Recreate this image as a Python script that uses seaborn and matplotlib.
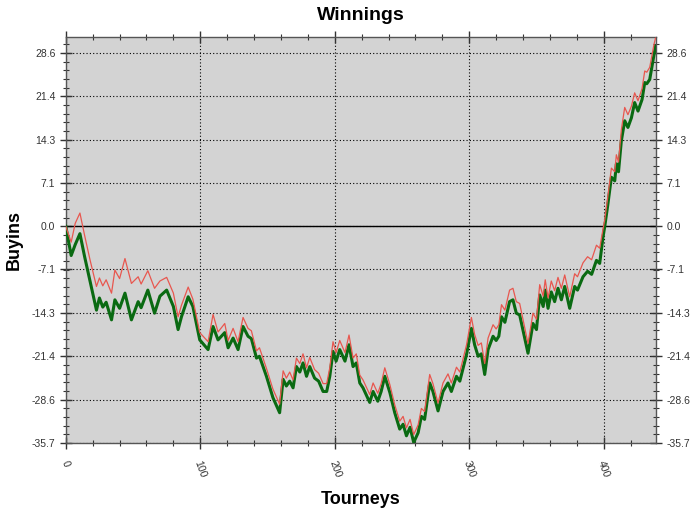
"""
plot.py

Recreates the 'Winnings' chart (buyins over tourneys, two series).
"""

import numpy as np
import pandas as pd
import matplotlib
matplotlib.use("Agg")
import matplotlib.pyplot as plt
from matplotlib.ticker import MultipleLocator, FixedLocator, FormatStrFormatter
import seaborn as sns

# Data
tourneys = [0, 4, 7, 10.5, 14, 18, 22.8, 25, 27.5, 30, 34, 36.5, 40, 44, 48.8, 53.8, 56, 61, 66, 70,
            75, 80, 83.5, 86, 91, 94.5, 99.6, 105.8, 109.5, 113.2, 118.2, 120.7, 124.4, 128.1, 131.8,
            135.5, 138, 141.8, 144, 149.2, 154, 159, 161.6, 164, 166.5, 169, 171.5, 174, 176.4, 179,
            181.4, 185, 188, 191.3, 194, 196.3, 198.7, 201, 203.7, 207.6, 210.6, 213.6, 216, 218.6,
            221, 226, 228.5, 232, 234.5, 237.2, 241, 244.6, 248.3, 250.8, 253.3, 256, 258.7, 262,
            264.4, 266.8, 270.6, 273, 276.8, 280.5, 284.2, 286.7, 290.5, 293, 298, 301.6, 304, 306.6,
            309, 311.5, 314, 317.7, 320, 322, 324, 326.5, 330, 332.5, 335, 337.5, 343.7, 347.4, 350,
            352.4, 355, 356.5, 358.6, 361, 363.5, 366, 368.5, 371, 374.7, 378.4, 380.5, 384.6, 388,
            391, 394.6, 397, 399.5, 400.7, 403, 405.7, 408.2, 409.4, 411, 413.1, 415.6, 418, 420.6,
            423, 425.5, 428.5, 430.5, 432, 434.2, 437.4, 438.5]

buyins_green = [0.0, -4.8, -3.0, -1.2, -5.0, -9.0, -13.8, -11.8, -13.3, -12.5, -15.4, -12.1, -13.5,
                -11.0, -15.4, -12.4, -13.4, -10.5, -14.3, -11.5, -10.5, -13.2, -17.0, -14.9, -11.6,
                -13.2, -18.7, -20.3, -16.5, -18.7, -17.5, -20.0, -18.4, -20.3, -16.5, -18.1, -18.5,
                -21.7, -21.4, -24.7, -28.2, -30.7, -25.2, -26.3, -25.5, -26.6, -23.1, -24.0, -22.5,
                -24.7, -23.1, -25.0, -25.5, -27.2, -27.2, -24.7, -20.6, -22.2, -20.3, -22.2, -19.5,
                -23.1, -22.5, -25.8, -26.6, -29.0, -27.2, -28.8, -27.2, -24.7, -27.4, -30.7, -33.4,
                -32.6, -34.5, -33.1, -35.6, -34.0, -31.3, -31.8, -25.8, -27.2, -30.4, -27.2, -25.8,
                -27.2, -24.7, -25.5, -21.1, -16.8, -19.5, -21.4, -21.0, -24.4, -20.3, -18.1, -18.8,
                -18.1, -14.9, -15.8, -12.4, -12.1, -14.3, -14.6, -20.9, -16.0, -17.0, -11.3, -13.2,
                -10.5, -13.5, -10.8, -12.4, -10.2, -12.1, -9.9, -13.5, -9.9, -10.5, -8.3, -7.4, -7.9,
                -5.6, -6.1, -1.7, -0.1, 3.5, 8.1, 7.5, 10.3, 9.0, 14.1, 17.4, 16.3, 17.9, 20.4, 19.0,
                20.9, 23.7, 23.5, 24.2, 28.3, 29.7]

buyins_red = [0.0, -2.6, 0.5, 2.2, -1.5, -5.5, -9.9, -8.5, -9.8, -8.8, -11.0, -7.2, -8.6, -5.3,
              -9.4, -8.3, -9.5, -7.3, -10.2, -9.0, -8.4, -11.0, -14.9, -13.0, -10.0, -12.0, -17.5,
              -19.0, -14.5, -17.4, -16.0, -18.8, -16.8, -19.0, -15.0, -16.8, -17.2, -20.5, -20.0,
              -23.4, -26.8, -29.3, -23.8, -25.0, -24.0, -25.3, -21.7, -22.6, -21.0, -23.3, -21.6,
              -23.6, -24.2, -25.9, -25.9, -23.3, -19.0, -20.8, -18.8, -20.8, -17.9, -21.7, -21.0,
              -24.5, -25.3, -27.7, -25.8, -27.5, -25.9, -23.3, -26.1, -29.4, -32.1, -31.3, -33.2,
              -31.8, -34.3, -32.7, -30.0, -30.5, -24.4, -25.9, -29.1, -25.8, -24.3, -25.8, -23.2,
              -24.0, -19.5, -15.0, -17.8, -19.6, -19.2, -22.6, -18.4, -16.2, -16.9, -16.2, -12.9,
              -13.8, -10.5, -10.2, -12.4, -12.7, -19.3, -14.3, -15.3, -9.6, -11.5, -8.8, -11.8,
              -9.0, -10.6, -8.4, -10.2, -8.0, -11.6, -7.8, -8.3, -6.0, -5.0, -5.5, -3.1, -3.6,
              -0.4, 1.0, 4.8, 9.6, 9.0, 11.8, 10.6, 15.9, 19.6, 18.4, 19.8, 22.0, 20.7, 22.7,
              25.6, 25.4, 26.2, 30.0, 31.0]

y_ticks = [-35.7, -28.6, -21.4, -14.3, -7.1, 0.0, 7.1, 14.3, 21.4, 28.6]

plt.rcParams['font.family'] = ['Liberation Sans', 'DejaVu Sans']

fig = plt.figure(figsize=(7, 5.14), dpi=100)
ax = fig.add_axes([0.094, 0.138, 0.843, 0.790])
ax.set_facecolor('#d3d3d3')

# Zero line and grid
ax.axhline(0, color='black', linewidth=1.0, zorder=1)

sns.lineplot(x=tourneys, y=buyins_green, color='#0a6a12', linewidth=2.2, ax=ax,
             estimator=None, sort=False, zorder=3)
sns.lineplot(x=tourneys, y=buyins_red, color='#e8574f', linewidth=0.9, ax=ax,
             estimator=None, sort=False, zorder=4)

ax.set_xlim(0, 438.8)
ax.set_ylim(-35.7, 31.2)

ax.xaxis.set_major_locator(MultipleLocator(100))
ax.xaxis.set_minor_locator(MultipleLocator(20))
ax.yaxis.set_major_locator(FixedLocator(y_ticks))
ax.yaxis.set_minor_locator(MultipleLocator(35.7 / 25))
ax.yaxis.set_major_formatter(FormatStrFormatter('%.1f'))

ax.grid(True, which='major', color='black', linestyle=(0, (1, 2)), linewidth=0.8)
ax.set_axisbelow(True)

ax.tick_params(which='both', direction='inout', left=True, right=True, top=True, bottom=True,
               labelright=True, labelsize=7.5, labelcolor='#333333', color='#333333')
ax.tick_params(which='major', length=8, width=1.0)
ax.tick_params(which='minor', length=5, width=0.8)
ax.tick_params(axis='x', which='both', top=True)
for lbl in ax.get_xticklabels():
    lbl.set_rotation(-70)
    lbl.set_ha('center')
    lbl.set_va('top')
ax.tick_params(axis='x', pad=8)

for s in ax.spines.values():
    s.set_color('#555555')
    s.set_linewidth(1.0)

ax.set_title("Winnings", fontsize=14, fontweight='bold', pad=12)
ax.set_xlabel("Tourneys", fontsize=13, fontweight='bold', labelpad=8)
ax.set_ylabel("Buyins", fontsize=13, fontweight='bold', labelpad=6)

fig.savefig("out.png", dpi=100)
